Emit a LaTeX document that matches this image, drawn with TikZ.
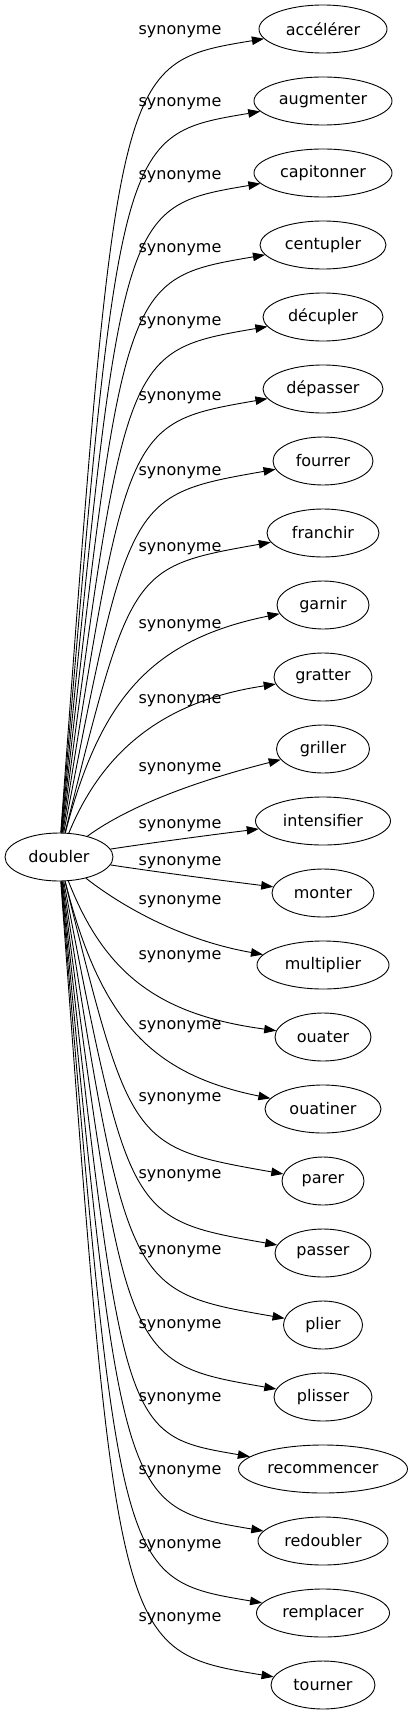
\documentclass[tikz,border=0pt]{standalone}
\usepackage{fontspec}
\setmainfont{DejaVu Sans}
\usetikzlibrary{shapes.geometric,arrows.meta}

\begin{document}
\begin{tikzpicture}[x=1pt,y=-1pt,
	word/.style={draw,ellipse,line width=0.9pt,minimum height=48pt,inner sep=0pt,font=\fontsize{16}{19}\selectfont},
	rel/.style={inner sep=0pt,font=\fontsize{16}{19}\selectfont},
	syn/.style={line width=0.9pt,-{Triangle[length=12pt,width=8.5pt]}}]
	\useasboundingbox (0,0) rectangle (413,1715);
	% source word
	\node[word,minimum width=108pt] (doubler) at (59,857) {doubler};
	% synonyms
	\node[word,minimum width=128pt] (accelerer) at (323,29) {accélérer};
	\node[word,minimum width=138pt] (augmenter) at (323,101) {augmenter};
	\node[word,minimum width=138pt] (capitonner) at (323,173) {capitonner};
	\node[word,minimum width=126pt] (centupler) at (323,245) {centupler};
	\node[word,minimum width=120pt] (decupler) at (323,317) {décupler};
	\node[word,minimum width=120pt] (depasser) at (323,389) {dépasser};
	\node[word,minimum width=100pt] (fourrer) at (323,461) {fourrer};
	\node[word,minimum width=112pt] (franchir) at (323,533) {franchir};
	\node[word,minimum width=92pt] (garnir) at (323,605) {garnir};
	\node[word,minimum width=98pt] (gratter) at (323,677) {gratter};
	\node[word,minimum width=93pt] (griller) at (323,749) {griller};
	\node[word,minimum width=135pt] (intensifier) at (323,821) {intensifier};
	\node[word,minimum width=102pt] (monter) at (323,893) {monter};
	\node[word,minimum width=132pt] (multiplier) at (323,965) {multiplier};
	\node[word,minimum width=96pt] (ouater) at (323,1037) {ouater};
	\node[word,minimum width=116pt] (ouatiner) at (323,1109) {ouatiner};
	\node[word,minimum width=82pt] (parer) at (323,1181) {parer};
	\node[word,minimum width=96pt] (passer) at (323,1253) {passer};
	\node[word,minimum width=79pt] (plier) at (323,1325) {plier};
	\node[word,minimum width=98pt] (plisser) at (323,1397) {plisser};
	\node[word,minimum width=169pt] (recommencer) at (323,1469) {recommencer};
	\node[word,minimum width=130pt] (redoubler) at (323,1541) {redoubler};
	\node[word,minimum width=133pt] (remplacer) at (323,1613) {remplacer};
	\node[word,minimum width=104pt] (tourner) at (323,1685) {tourner};
	% edge labels
	\node[rel] (s1) at (180,32) {synonyme};
	\node[rel] (s2) at (180,104) {synonyme};
	\node[rel] (s3) at (180,177) {synonyme};
	\node[rel] (s4) at (180,250) {synonyme};
	\node[rel] (s5) at (180,323) {synonyme};
	\node[rel] (s6) at (180,398) {synonyme};
	\node[rel] (s7) at (180,473) {synonyme};
	\node[rel] (s8) at (180,549) {synonyme};
	\node[rel] (s9) at (180,626) {synonyme};
	\node[rel] (s10) at (180,701) {synonyme};
	\node[rel] (s11) at (180,769) {synonyme};
	\node[rel] (s12) at (180,826) {synonyme};
	\node[rel] (s13) at (180,863) {synonyme};
	\node[rel] (s14) at (180,902) {synonyme};
	\node[rel] (s15) at (180,957) {synonyme};
	\node[rel] (s16) at (180,1027) {synonyme};
	\node[rel] (s17) at (180,1099) {synonyme};
	\node[rel] (s18) at (180,1176) {synonyme};
	\node[rel] (s19) at (180,1252) {synonyme};
	\node[rel] (s20) at (180,1326) {synonyme};
	\node[rel] (s21) at (180,1399) {synonyme};
	\node[rel] (s22) at (180,1472) {synonyme};
	\node[rel] (s23) at (180,1546) {synonyme};
	\node[rel] (s24) at (180,1619) {synonyme};
	% edges
	\draw[syn] (doubler) .. controls (117,63) .. (accelerer);
	\draw[syn] (doubler) .. controls (119,135) .. (augmenter);
	\draw[syn] (doubler) .. controls (121,207) .. (capitonner);
	\draw[syn] (doubler) .. controls (123,279) .. (centupler);
	\draw[syn] (doubler) .. controls (125,351) .. (decupler);
	\draw[syn] (doubler) .. controls (127,423) .. (depasser);
	\draw[syn] (doubler) .. controls (129,495) .. (fourrer);
	\draw[syn] (doubler) .. controls (131,567) .. (franchir);
	\draw[syn] (doubler) .. controls (100,700) and (150,640) .. (garnir);
	\draw[syn] (doubler) .. controls (105,745) and (170,700) .. (gratter);
	\draw[syn] (doubler) .. controls (130,805) and (200,780) .. (griller);
	\draw[syn] (doubler) .. controls (150,843) and (210,835) .. (intensifier);
	\draw[syn] (doubler) .. controls (150,871) and (210,879) .. (monter);
	\draw[syn] (doubler) .. controls (120,905) and (180,940) .. (multiplier);
	\draw[syn] (doubler) .. controls (105,975) and (160,1015) .. (ouater);
	\draw[syn] (doubler) .. controls (100,1019) and (150,1074) .. (ouatiner);
	\draw[syn] (doubler) .. controls (131,1147) .. (parer);
	\draw[syn] (doubler) .. controls (129,1219) .. (passer);
	\draw[syn] (doubler) .. controls (127,1291) .. (plier);
	\draw[syn] (doubler) .. controls (125,1363) .. (plisser);
	\draw[syn] (doubler) .. controls (123,1435) .. (recommencer);
	\draw[syn] (doubler) .. controls (121,1507) .. (redoubler);
	\draw[syn] (doubler) .. controls (119,1579) .. (remplacer);
	\draw[syn] (doubler) .. controls (117,1651) .. (tourner);
\end{tikzpicture}
\end{document}
